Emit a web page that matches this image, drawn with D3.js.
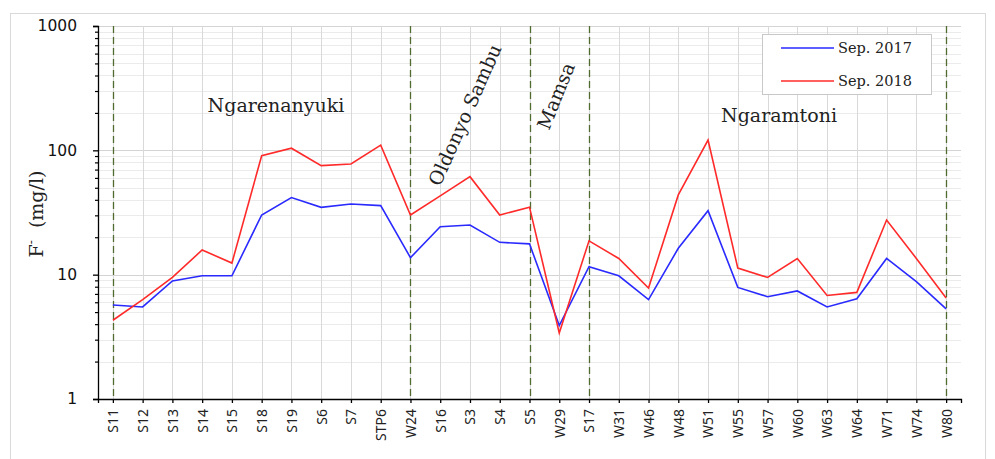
<!DOCTYPE html>
<html><head><meta charset="utf-8">
<script src="https://cdn.jsdelivr.net/npm/d3@7"></script>
<style>
html,body{margin:0;padding:0;background:#fff;}
svg{display:block;}
</style></head>
<body>
<svg id="chart" width="995" height="459"></svg>
<script>
const categories = ["S11","S12","S13","S14","S15","S18","S19","S6","S7","STP6","W24","S16","S3","S4","S5","W29","S17","W31","W46","W48","W51","W55","W57","W60","W63","W64","W71","W74","W80"];
const sep2017 = [5.7,5.5,8.9,9.8,9.8,30.2,41.7,34.8,37,35.9,13.7,24.3,25.1,18.2,17.7,3.9,11.6,9.8,6.3,16.3,32.7,7.9,6.65,7.4,5.5,6.4,13.5,8.8,5.3];
const sep2018 = [4.3,6.3,9.5,15.8,12.4,90.6,104,75.3,77.7,110,30.2,43,61.4,30.2,34.9,3.4,18.7,13.5,7.8,43.8,121,11.3,9.5,13.5,6.8,7.2,27.5,13.5,6.5];
const seriesNames = ["Sep. 2017","Sep. 2018"];
const seriesColors = ["#2a2aff","#ff2a2a"];
const yTicks = [1,10,100,1000];
const dividers = ["S11","W24","S5","S17","W80"];
const regionLabels = [
  {text:"Ngarenanyuki", rot:0},
  {text:"Oldonyo Sambu", rot:-66},
  {text:"Mamsa", rot:-68},
  {text:"Ngaramtoni", rot:0}
];

const svg = d3.select("#chart");
const L = 98, R = 961, T = 26, B = 399;

svg.append("rect").attr("x",10.5).attr("y",13.5).attr("width",975).attr("height",460)
  .attr("fill","none").attr("stroke","#d9d9d9").attr("stroke-width",1);

const x = d3.scalePoint().domain(categories).range([L,R]).padding(0.5);
const y = d3.scaleLog().domain([1,1000]).range([B,T]);

const minor = [];
for (let d=1; d<1000; d*=10) for (let k=2;k<=9;k++) minor.push(d*k);

const g = svg.append("g");
g.selectAll(".hmin").data(minor).join("line")
  .attr("x1",L).attr("x2",R).attr("y1",d=>Math.round(y(d))+0.5).attr("y2",d=>Math.round(y(d))+0.5)
  .attr("stroke","#ebebeb").attr("stroke-width",1);
g.selectAll(".hmaj").data(yTicks).join("line")
  .attr("x1",L).attr("x2",R).attr("y1",d=>Math.round(y(d))+0.5).attr("y2",d=>Math.round(y(d))+0.5)
  .attr("stroke","#d4d4d4").attr("stroke-width",1);
g.selectAll(".v").data(categories).join("line")
  .attr("x1",d=>Math.round(x(d))+0.5).attr("x2",d=>Math.round(x(d))+0.5).attr("y1",T).attr("y2",B)
  .attr("stroke","#d9d9d9").attr("stroke-width",1);

g.selectAll(".div").data(dividers).join("line")
  .attr("x1",d=>Math.round(x(d))+0.5).attr("x2",d=>Math.round(x(d))+0.5).attr("y1",T).attr("y2",B)
  .attr("stroke","#4f6b2f").attr("stroke-width",1.3).attr("stroke-dasharray","7,4");

const line = d3.line().x((d,i)=>x(categories[i])).y(d=>y(d));
[sep2017,sep2018].forEach((s,i)=>{
  svg.append("path").datum(s).attr("d",line).attr("fill","none")
    .attr("stroke",seriesColors[i]).attr("stroke-width",1.6).attr("stroke-linejoin","miter");
});

const yAxis = svg.append("g").attr("transform",`translate(${L},0)`)
  .call(d3.axisLeft(y).tickValues(yTicks).tickFormat(d3.format("d")).tickSize(5).tickPadding(16));
yAxis.select(".domain").attr("stroke","#000").attr("stroke-width",1.3);
yAxis.selectAll(".tick line").attr("stroke","#000").attr("stroke-width",1.3);
yAxis.selectAll("text").attr("font-family","DejaVu Sans").attr("font-size","15.5px").attr("fill","#111");
const yMinor = svg.append("g").attr("transform",`translate(${L},0)`)
  .call(d3.axisLeft(y).tickValues(minor).tickFormat("").tickSize(3));
yMinor.select(".domain").remove();
yMinor.selectAll(".tick line").attr("stroke","#000").attr("stroke-width",1.2);

const xAxis = svg.append("g").attr("transform",`translate(0,${B})`)
  .call(d3.axisBottom(x).tickSize(4).tickSizeOuter(4).tickPadding(6));
xAxis.select(".domain").attr("stroke","#000").attr("stroke-width",1.3);
xAxis.selectAll(".tick line").attr("stroke","#000").attr("stroke-width",1.3);
xAxis.selectAll("text").attr("font-family","Noto Sans").attr("font-size","14px").attr("fill","#222")
  .attr("transform","rotate(-90)").attr("text-anchor","end").attr("x",-10).attr("y",0).attr("dy","0.35em");

const yl = svg.append("text").attr("transform","translate(43,214) rotate(-90)")
  .attr("text-anchor","middle").attr("font-family","DejaVu Serif").attr("font-size","19px").attr("fill","#222");
yl.append("tspan").text("F");
yl.append("tspan").text("-").attr("font-size","12px").attr("dy","-8");
yl.append("tspan").text("\u00a0\u00a0(mg/l)").attr("dy","8");

const regionPos = {
  "Ngarenanyuki":[276,112],
  "Oldonyo Sambu":[465,115],
  "Mamsa":[556,96],
  "Ngaramtoni":[779,122]
};
regionLabels.forEach(r=>{
  const p = regionPos[r.text];
  const t = svg.append("text").attr("font-family","DejaVu Serif").attr("font-size","19px").attr("fill","#222")
    .attr("text-anchor","middle").text(r.text);
  if (r.rot) t.attr("transform",`translate(${p[0]},${p[1]}) rotate(${r.rot})`).attr("dy","0.35em");
  else t.attr("x",p[0]).attr("y",p[1]);
});

const lg = svg.append("g");
lg.append("rect").attr("x",762.5).attr("y",34.5).attr("width",169).attr("height",60)
  .attr("fill","#fff").attr("stroke","#c8c8c8").attr("stroke-width",1);
seriesNames.forEach((n,i)=>{
  const yy = 48 + i*33;
  lg.append("line").attr("x1",781).attr("x2",834).attr("y1",yy).attr("y2",yy)
    .attr("stroke",seriesColors[i]).attr("stroke-width",1.6);
  lg.append("text").attr("x",838).attr("y",yy).attr("dy","0.35em").attr("font-family","DejaVu Serif")
    .attr("font-size","14.5px").attr("fill","#222").text(n);
});
</script>
</body></html>
